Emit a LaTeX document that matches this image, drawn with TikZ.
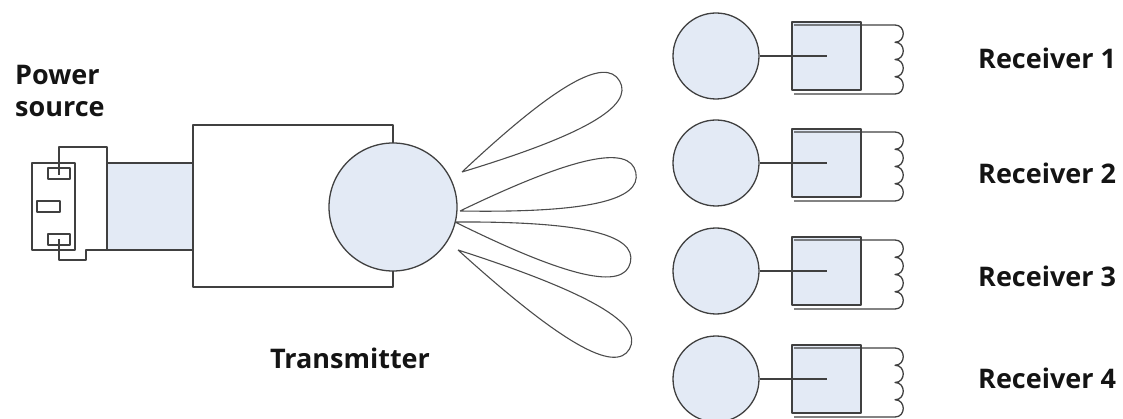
\documentclass[tikz,border=0pt]{standalone}
\usepackage{fontspec}
\setmainfont{Open Sans}
\begin{document}
\begin{tikzpicture}[x=1pt,y=-1pt,
  line join=round,
  outline/.style={draw=black!75, line width=1.3pt},
  blueface/.style={outline, fill=paleblue},
  lobe/.style={draw=black!70, line width=1.1pt},
  label/.style={font=\bfseries\fontsize{27}{32}\selectfont, inner sep=0pt, text=black!92}]
\definecolor{paleblue}{RGB}{227,234,245}
\useasboundingbox (0,0) rectangle (1123,419);

% power source plug
\draw[blueface] (107,163) rectangle (193,250);
\draw[outline, fill=white] (32,163) rectangle (75,250);
\draw[outline, fill=white] (48,168) rectangle (70,179);
\draw[outline, fill=white] (37,201) rectangle (60,212);
\draw[outline, fill=white] (48,234) rectangle (70,245);
\draw[outline] (59,175) -- (59,147) -- (107,147) -- (107,250) -- (86,250)
  -- (86,260) -- (59,260) -- (59,239);
\node[label, anchor=north west, align=left] (power) at (15,65) {Power\\source};

% transmitter body and antenna
\draw[outline, fill=white] (193,125) rectangle (393,287);
\node[blueface, circle, minimum size=128pt, inner sep=0pt] (tx) at (393,207) {};
\node[label, anchor=base] (txlabel) at (350,368) {Transmitter};

% radiation lobes: base point, direction, length
\newcommand\beamlobe[4]{%
  \draw[lobe, shift={(#1,#2)}, rotate=#3]
    (0,0) .. controls (0.68*#4,29) and (#4,29) .. (#4,0)
          .. controls (#4,-29) and (0.68*#4,-29) .. (0,0);}
\beamlobe{462}{172}{30}{182}
\beamlobe{460}{211}{12.4}{180}
\beamlobe{455}{222}{-13}{180}
\beamlobe{458}{250}{-30}{198}

% receivers
\foreach \n/\c/\b in {1/56/69, 2/163/184, 3/271/287, 4/379/388}{
  \node[blueface, circle, minimum size=86pt, inner sep=0pt] (rx\n) at (716,\c) {};
  \draw[blueface] (792,\c-34) rectangle (861,\c+34);
  \coordinate (core\n) at (827,\c);
  \draw[outline] (rx\n.east) -- (core\n);
  \draw[outline] (794,\c-31) -- (895,\c-31)
    \foreach \k in {0,1,2,3}{
      .. controls (906,\c-31+17.25*\k) and (906,\c-31+17.25*\k+17.25) .. (895,\c-31+17.25*\k+17.25)}
    -- (794,\c+38);
  \node[label, anchor=base west] (rxlabel\n) at (978,\b) {Receiver \n};
}
\end{tikzpicture}
\end{document}
